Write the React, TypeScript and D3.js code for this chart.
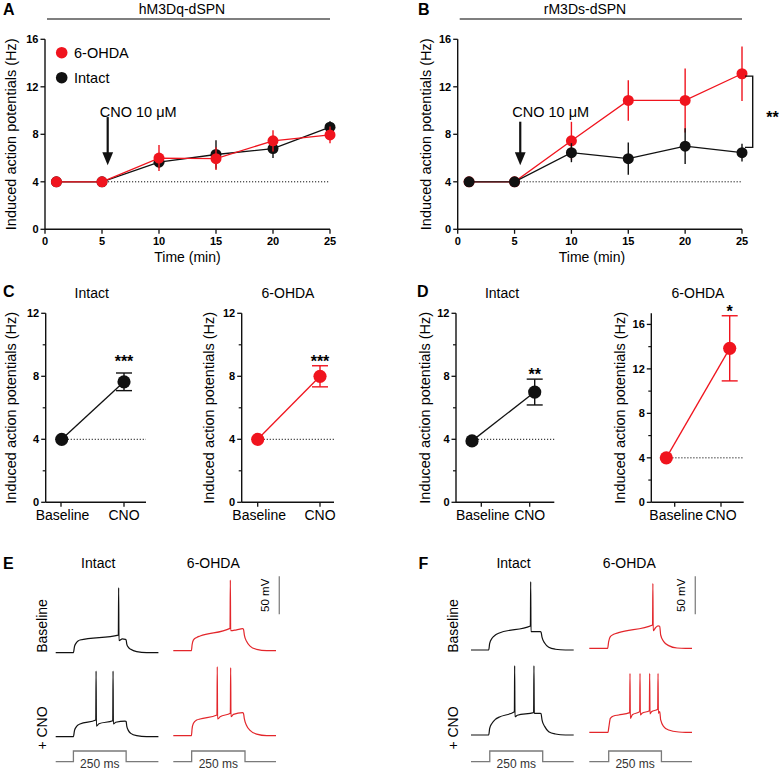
import React from 'react';
import * as d3 from 'd3';

const FONT = '"Liberation Sans", Arial, Helvetica, sans-serif';
const RED = '#f0141e';
const TRACE_RED = '#e3262b';
const INK = '#111111';

// A / B time course: induced AP rate (Hz) vs time (min)
const timeMin = [1, 5, 10, 15, 20, 25];
const aOhda = [4, 4, 6.0, 5.95, 7.45, 7.95];
const aOhdaErr = [0, 0, 1.1, 0.95, 0.9, 0.7];
const aIntact = [4, 4, 5.65, 6.3, 6.8, 8.6];
const aIntactErr = [0, 0, 0.5, 1.2, 0.8, 0.5];
const bOhda = [4, 4, 7.45, 10.85, 10.85, 13.1];
const bOhdaErr = [0, 0, 1.6, 1.7, 2.7, 2.3];
const bIntact = [4, 4, 6.45, 5.95, 7.0, 6.45];
const bIntactErr = [0, 0, 0.8, 1.35, 1.5, 0.75];
const timeTicks = [0, 5, 10, 15, 20, 25];
const rateTicks = [0, 4, 8, 12, 16];
const baselineRate = 4;
const cnoAt = 5.5;

// C / D: baseline vs CNO
const pairCats = ['Baseline', 'CNO'];
const cIntact = [4, 7.65];
const cIntactErr = [0, 0.56];
const cOhda = [4, 8.0];
const cOhdaErr = [0, 0.67];
const dIntact = [3.9, 7.0];
const dIntactErr = [0, 0.82];
const dOhda = [4, 13.85];
const dOhdaErr = [0, 2.93];
const ticks12 = [0, 4, 8, 12];
const minor12 = [2, 6, 10];
const ticks16 = [0, 4, 8, 12, 16];
const minor16 = [2, 6, 10, 14];

// E / F: example traces, [ms, mV] key points
const eIntactBase = [[0, -80], [84, -80], [89, -72], [96, -67.7], [106, -64.6], [115, -63.3], [297, -56.8], [298.5, 5.5], [300, -64.2], [316, -61.8], [330, -62.5], [334, -63.3], [337, -68.6], [345, -73], [356, -75.6], [384, -78.7], [431, -80], [487, -80]];
const eOhdaBase = [[0, -80], [86, -80], [89, -72.5], [95, -66], [111, -62.5], [127, -60.7], [269, -50.6], [270.5, 13], [272, -53.7], [300, -52.5], [329, -51], [333, -52], [337, -59.4], [348, -68], [364, -73.9], [395, -78.2], [443, -80], [487, -80]];
const eIntactCno = [[0, -80], [84, -80], [89, -72], [96, -67.7], [106, -64.6], [115, -63.3], [190, -58], [191.5, 6.4], [193, -66], [205, -63], [270.5, -59], [272, 6.4], [273.5, -63.3], [285, -61], [329, -59.4], [334, -60], [337, -66], [345, -72], [356, -75.6], [384, -78.7], [431, -80], [487, -80]];
const eOhdaCno = [[0, -80], [86, -80], [89, -71], [95, -64], [111, -59.4], [127, -58], [207, -52.8], [208.5, 10.8], [210, -58], [222, -55], [270.5, -50.6], [272, 9.5], [273.5, -55], [285, -52], [329, -49.7], [333, -51], [337, -58], [348, -67], [364, -73], [395, -78], [443, -80], [487, -80]];
const fIntactBase = [[0, -80], [84, -80], [88.6, -71.2], [99.7, -64.6], [115.5, -60.3], [131, -58], [281.6, -48.4], [283, 9.9], [284.5, -55.9], [329, -55.9], [332, -56.5], [337, -63.3], [350, -71.2], [368.6, -76.5], [400, -79], [448, -80], [487, -80]];
const fOhdaBase = [[0, -80], [87, -80], [91.8, -71.2], [99.7, -64.6], [115.5, -61.6], [139, -59.4], [300, -49.3], [301.5, 5.5], [303, -56.8], [314, -53], [326, -50.6], [334, -51], [338.5, -62.5], [353, -71.2], [376.5, -76.5], [416, -79.6], [456, -80], [487, -80]];
const fIntactCno = [[0, -80], [84, -80], [88.6, -71.2], [99.7, -64.6], [115.5, -59.4], [131, -56.8], [205.7, -49.3], [207, 11.2], [208.5, -55.9], [220, -54], [297, -50.6], [298.5, 11.2], [300, -51.5], [329, -51.5], [332, -52], [337, -60.3], [350, -69], [368.6, -75.6], [400, -78.7], [448, -80], [487, -80]];
const fOhdaCno = [[0, -80], [88.6, -80], [93, -72.5], [99.7, -61.6], [115.5, -58.5], [139, -57.2], [191.4, -54.1], [193, -2.4], [194.6, -61.6], [204, -57], [239, -52.8], [240.5, -2.4], [242, -57.2], [250, -55], [284.8, -51.5], [286.3, -2.4], [287.8, -55.9], [295, -53], [324.3, -49.7], [326, -2.4], [327.5, -55], [334, -52.8], [338.5, -63.8], [353, -72.5], [376.5, -76.9], [424, -79.6], [456, -80], [487, -80]];
const stimE = [[84, 334], [87, 340]];
const stimF = [[89, 340], [92, 342]];
const traceSpanMs = 487;
const scaleBarMv = 50;

const yLabel = 'Induced action potentials (Hz)';

function TimeCourse({ left, right, letterX, title, titleX, xLabelX, labelX, series, arrowTop, legend, bracket }) {
  const x = d3.scaleLinear().domain([0, 25]).range([left, right]);
  const y = d3.scaleLinear().domain([0, 16]).range([229.3, 39.3]);
  const y0 = y(0);
  const tip = y(5.4);
  const ax = x(cnoAt);
  return (
    <g>
      <text x={letterX} y={15} fontSize={16} fontWeight="bold">{title === 'hM3Dq-dSPN' ? 'A' : 'B'}</text>
      <text x={titleX} y={14} fontSize={14} textAnchor="middle">{title}</text>
      <line x1={left + 2} x2={right} y1={19} y2={19} stroke="#555" strokeWidth={1.4} />
      <line x1={x(5)} x2={x(25)} y1={y(baselineRate)} y2={y(baselineRate)} stroke={INK} strokeWidth={1} strokeDasharray="1.2,1.8" />
      {series.map((s, k) => (
        <g key={k}>
          <path d={d3.line<number>().x((_, i) => x(timeMin[i])).y(d => y(d))(s.v) || ''} fill="none" stroke={s.color} strokeWidth={1.3} />
          {s.v.map((v, i) => s.e[i] > 0 && (
            <line key={i} x1={x(timeMin[i])} x2={x(timeMin[i])} y1={y(v - s.e[i])} y2={y(v + s.e[i])} stroke={s.color} strokeWidth={1.4} />
          ))}
          {s.v.map((v, i) => <circle key={'c' + i} cx={x(timeMin[i])} cy={y(v)} r={5.5} fill={s.color} />)}
        </g>
      ))}
      <line x1={left} x2={left} y1={y0} y2={y(16)} stroke={INK} strokeWidth={1.4} />
      <line x1={left} x2={right} y1={y0} y2={y0} stroke={INK} strokeWidth={1.4} />
      {rateTicks.map(t => (
        <g key={t}>
          <line x1={left - 4.5} x2={left} y1={y(t)} y2={y(t)} stroke={INK} strokeWidth={1.3} />
          <text x={left - 6.5} y={y(t) + 3.8} fontSize={11} fontWeight="bold" textAnchor="end">{t}</text>
        </g>
      ))}
      {timeTicks.map(t => (
        <g key={t}>
          <line x1={x(t)} x2={x(t)} y1={y0} y2={y0 + 4.5} stroke={INK} strokeWidth={1.3} />
          <text x={x(t)} y={y0 + 15.5} fontSize={11} fontWeight="bold" textAnchor="middle">{t}</text>
        </g>
      ))}
      <text x={xLabelX} y={262} fontSize={14} textAnchor="middle">Time (min)</text>
      <text transform={`translate(${labelX},${(y0 + y(16)) / 2}) rotate(-90)`} fontSize={14.5} textAnchor="middle">{yLabel}</text>
      <text x={x(4.8)} y={117} fontSize={14.5}>CNO 10 μM</text>
      <line x1={ax} x2={ax} y1={y(arrowTop)} y2={tip - 12} stroke={INK} strokeWidth={2.2} />
      <path d={`M${ax - 5.4},${tip - 13} L${ax + 5.4},${tip - 13} L${ax},${tip} Z`} fill={INK} />
      {legend && (
        <g>
          <circle cx={61.7} cy={52.7} r={5.8} fill={RED} />
          <text x={74} y={57.5} fontSize={14.5}>6-OHDA</text>
          <circle cx={61.7} cy={77.7} r={5.8} fill={INK} />
          <text x={74} y={82.7} fontSize={14.5}>Intact</text>
        </g>
      )}
      {bracket && (
        <g>
          <path d={`M745,${y(bracket[0])} H752.7 V${y(bracket[1])} H745`} fill="none" stroke={INK} strokeWidth={1.4} />
          <text x={772.5} y={123} fontSize={16} fontWeight="bold" textAnchor="middle">**</text>
        </g>
      )}
    </g>
  );
}

function PairPanel({ axisX, axisEnd, yMax, ticks, minor, vals, errs, color, tickPos, pointPos, title, titleX, labelX, star, starY, letter, letterX }) {
  const y = d3.scaleLinear().domain([0, yMax]).range([502.3, 313.3]);
  const y0 = y(0);
  const line = d3.line<number>().x((_, i) => pointPos[i]).y(d => y(d));
  return (
    <g>
      {letter && <text x={letterX} y={297} fontSize={16} fontWeight="bold">{letter}</text>}
      <text x={titleX} y={298} fontSize={14} textAnchor="middle">{title}</text>
      <line x1={pointPos[0]} x2={axisEnd} y1={y(baselineRate)} y2={y(baselineRate)} stroke={INK} strokeWidth={1} strokeDasharray="1.2,1.8" />
      <path d={line(vals) || ''} fill="none" stroke={color} strokeWidth={1.3} />
      {vals.map((v, i) => errs[i] > 0 && (
        <g key={i}>
          <line x1={pointPos[i]} x2={pointPos[i]} y1={y(v - errs[i])} y2={y(v + errs[i])} stroke={color} strokeWidth={1.4} />
          <line x1={pointPos[i] - 8} x2={pointPos[i] + 8} y1={y(v - errs[i])} y2={y(v - errs[i])} stroke={color} strokeWidth={1.4} />
          <line x1={pointPos[i] - 8} x2={pointPos[i] + 8} y1={y(v + errs[i])} y2={y(v + errs[i])} stroke={color} strokeWidth={1.4} />
        </g>
      ))}
      {vals.map((v, i) => <circle key={'c' + i} cx={pointPos[i]} cy={y(v)} r={6.6} fill={color} />)}
      <text x={pointPos[1]} y={starY} fontSize={16} fontWeight="bold" textAnchor="middle">{star}</text>
      <line x1={axisX} x2={axisX} y1={y0} y2={y(yMax)} stroke={INK} strokeWidth={1.4} />
      <line x1={axisX} x2={axisEnd} y1={y0} y2={y0} stroke={INK} strokeWidth={1.4} />
      {ticks.map(t => (
        <g key={t}>
          <line x1={axisX - 4.5} x2={axisX} y1={y(t)} y2={y(t)} stroke={INK} strokeWidth={1.3} />
          <text x={axisX - 6.5} y={y(t) + 3.8} fontSize={11} fontWeight="bold" textAnchor="end">{t}</text>
        </g>
      ))}
      {minor.map(t => <line key={t} x1={axisX - 3} x2={axisX} y1={y(t)} y2={y(t)} stroke={INK} strokeWidth={1.2} />)}
      {pairCats.map((c, i) => (
        <g key={c}>
          <line x1={tickPos[i]} x2={tickPos[i]} y1={y0} y2={y0 + 4.5} stroke={INK} strokeWidth={1.3} />
          <text x={tickPos[i] + (i === 0 ? 1.5 : 0)} y={520} fontSize={14} textAnchor="middle">{c}</text>
        </g>
      ))}
      <text transform={`translate(${labelX},${(y0 + y(yMax)) / 2}) rotate(-90)`} fontSize={14.5} textAnchor="middle">{yLabel}</text>
    </g>
  );
}

function Trace({ x0, restY, pts, color }) {
  const x = d3.scaleLinear().domain([0, traceSpanMs]).range([x0, x0 + 102.7]);
  const y = d3.scaleLinear().domain([-80, -30]).range([restY, restY - 38]);
  const line = d3.line<number[]>().x(d => x(d[0])).y(d => y(d[1])).curve(d3.curveMonotoneX);
  return <path d={line(pts) || ''} fill="none" stroke={color} strokeWidth={1.2} strokeLinejoin="round" />;
}

function Stim({ x0, onOff }) {
  const x = d3.scaleLinear().domain([0, traceSpanMs]).range([x0, x0 + 102.7]);
  const y = d3.scaleLinear().domain([0, 1]).range([761.7, 751]);
  const pts = [[0, 0], [onOff[0], 0], [onOff[0], 1], [onOff[1], 1], [onOff[1], 0], [traceSpanMs, 0]];
  const line = d3.line<number[]>().x(d => x(d[0])).y(d => y(d[1]));
  return (
    <g>
      <path d={line(pts) || ''} fill="none" stroke="#7a7a7a" strokeWidth={1.3} />
      <text x={(x(onOff[0]) + x(onOff[1])) / 2} y={768} fontSize={12} textAnchor="middle" fill="#333">250 ms</text>
    </g>
  );
}

function TracePanel({ letter, letterX, leftX, rightX, labelX, barX, base, cno, rest, stim }) {
  const bar = d3.scaleLinear().domain([0, scaleBarMv]).range([614.3, 576.3]);
  return (
    <g>
      <text x={letterX} y={568.5} fontSize={16} fontWeight="bold">{letter}</text>
      <text x={leftX + 42.5} y={568} fontSize={14} textAnchor="middle">Intact</text>
      <text x={rightX + 40} y={568} fontSize={14} textAnchor="middle">6-OHDA</text>
      <text transform={`translate(${labelX},626) rotate(-90)`} fontSize={14} textAnchor="middle">Baseline</text>
      <text transform={`translate(${labelX},728) rotate(-90)`} fontSize={14} textAnchor="middle">+ CNO</text>
      <line x1={barX} x2={barX} y1={bar(0)} y2={bar(scaleBarMv)} stroke="#8a8a8a" strokeWidth={1.4} />
      <text transform={`translate(${barX - 10},${(bar(0) + bar(scaleBarMv)) / 2}) rotate(-90)`} fontSize={11.5} textAnchor="middle">50 mV</text>
      <Trace x0={leftX} restY={rest[0]} pts={base[0]} color={INK} />
      <Trace x0={rightX} restY={rest[1]} pts={base[1]} color={TRACE_RED} />
      <Trace x0={leftX} restY={rest[2]} pts={cno[0]} color={INK} />
      <Trace x0={rightX} restY={rest[3]} pts={cno[1]} color={TRACE_RED} />
      <Stim x0={leftX} onOff={stim[0]} />
      <Stim x0={rightX} onOff={stim[1]} />
    </g>
  );
}

export default function App() {
  return (
    <svg width={784} height={774} style={{ position: 'absolute', left: 0, top: 0, background: '#fff' }} fontFamily={FONT}>
      <TimeCourse
        left={45} right={330} letterX={3} title="hM3Dq-dSPN" titleX={182} xLabelX={187.5} labelX={15.5}
        series={[{ v: aIntact, e: aIntactErr, color: INK }, { v: aOhda, e: aOhdaErr, color: RED }]}
        arrowTop={9.45} legend
      />
      <TimeCourse
        left={457.7} right={742} letterX={418} title="rM3Ds-dSPN" titleX={585} xLabelX={592} labelX={431}
        series={[{ v: bOhda, e: bOhdaErr, color: RED }, { v: bIntact, e: bIntactErr, color: INK }]}
        arrowTop={9.06} bracket={[12.9, 6.9]}
      />
      <PairPanel letter="C" letterX={3} axisX={45.7} axisEnd={146} yMax={12} ticks={ticks12} minor={minor12}
        vals={cIntact} errs={cIntactErr} color={INK} tickPos={[61, 124]} pointPos={[61.7, 124]}
        title="Intact" titleX={91.7} labelX={15.5} star="***" starY={367} />
      <PairPanel axisX={241.7} axisEnd={334} yMax={12} ticks={ticks12} minor={minor12}
        vals={cOhda} errs={cOhdaErr} color={RED} tickPos={[257.7, 320]} pointPos={[257.7, 320]}
        title="6-OHDA" titleX={288} labelX={213.5} star="***" starY={367} />
      <PairPanel letter="D" letterX={417} axisX={456} axisEnd={554.3} yMax={12} ticks={ticks12} minor={minor12}
        vals={dIntact} errs={dIntactErr} color={INK} tickPos={[481.3, 529.7]} pointPos={[472, 534.7]}
        title="Intact" titleX={502} labelX={429.5} star="**" starY={379.5} />
      <PairPanel axisX={651.3} axisEnd={743.7} yMax={17} ticks={ticks16} minor={minor16}
        vals={dOhda} errs={dOhdaErr} color={RED} tickPos={[674.7, 721]} pointPos={[666.3, 729.7]}
        title="6-OHDA" titleX={698} labelX={624.5} star="*" starY={317} />
      <TracePanel letter="E" letterX={3} leftX={55.7} rightX={173.3} labelX={47} barX={279.3}
        base={[eIntactBase, eOhdaBase]} cno={[eIntactCno, eOhdaCno]} rest={[652.7, 650.7, 736.7, 735.7]} stim={stimE} />
      <TracePanel letter="F" letterX={418.5} leftX={471} rightX={589.3} labelX={458} barX={695.3}
        base={[fIntactBase, fOhdaBase]} cno={[fIntactCno, fOhdaCno]} rest={[650, 648.3, 735, 732.3]} stim={stimF} />
    </svg>
  );
}
